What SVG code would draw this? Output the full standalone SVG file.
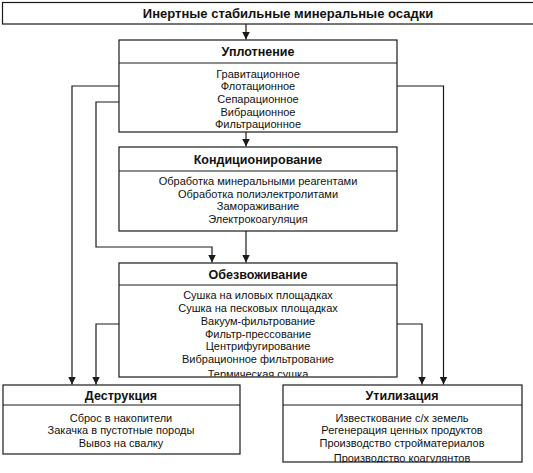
<svg xmlns="http://www.w3.org/2000/svg" width="533" height="473" viewBox="0 0 533 473">
<style>
.box{fill:#fff;stroke:#1a1a1a;stroke-width:1.2}
.div{stroke:#1a1a1a;stroke-width:1.1}
.h{font-family:"Liberation Sans",Arial,sans-serif;font-weight:bold;font-size:12.5px;fill:#111;text-anchor:middle}
.t{font-family:"Liberation Sans",Arial,sans-serif;font-size:11px;fill:#111;text-anchor:middle}
.c{fill:none;stroke:#1a1a1a;stroke-width:1.2}
</style>
<defs>
<marker id="ar" markerWidth="8" markerHeight="10" refX="8" refY="4" orient="auto" markerUnits="userSpaceOnUse" viewBox="0 0 8 8">
<path d="M0,0 L8,4 L0,8 z" fill="#1a1a1a"/>
</marker>
<clipPath id="clipObez"><rect x="119" y="263" width="278" height="113.5"/></clipPath>
<clipPath id="clipUtil"><rect x="283" y="385" width="239" height="77.5"/></clipPath>
</defs>
<g id="connectors">
<path class="c" d="M246,24 V39.5" marker-end="url(#ar)"/>
<path class="c" d="M246,132 V146.5" marker-end="url(#ar)"/>
<path class="c" d="M246,231 V262.5" marker-end="url(#ar)"/>
<path class="c" d="M119,86 H72 V384.5" marker-end="url(#ar)"/>
<path class="c" d="M119,102 H96 V247 H212 V262.5" marker-end="url(#ar)"/>
<path class="c" d="M397,86 H443.5 V384.5" marker-end="url(#ar)"/>
<path class="c" d="M119,324 H96 V384.5" marker-end="url(#ar)"/>
<path class="c" d="M397,324 H422 V384.5" marker-end="url(#ar)"/>
</g>
<g id="top">
<rect class="box" x="2.5" y="2.5" width="532" height="21.5"/>
<text class="h" x="288" y="18" style="font-size:13px">Инертные стабильные минеральные осадки</text>
</g>
<g id="uplotnenie">
<rect class="box" x="119" y="40" width="278" height="92"/>
<line class="div" x1="119" y1="63" x2="397" y2="63"/>
<text class="h" x="258" y="56">Уплотнение</text>
<text class="t" x="258" y="77.5">Гравитационное</text>
<text class="t" x="258" y="90">Флотационное</text>
<text class="t" x="258" y="103">Сепарационное</text>
<text class="t" x="258" y="115.5">Вибрационное</text>
<text class="t" x="258" y="128">Фильтрационное</text>
</g>
<g id="kondicionirovanie">
<rect class="box" x="119" y="147" width="278" height="84"/>
<line class="div" x1="119" y1="171" x2="397" y2="171"/>
<text class="h" x="258" y="164">Кондиционирование</text>
<text class="t" x="258" y="185">Обработка минеральными реагентами</text>
<text class="t" x="258" y="197.5">Обработка полиэлектролитами</text>
<text class="t" x="258" y="210">Замораживание</text>
<text class="t" x="258" y="222.5">Электрокоагуляция</text>
</g>
<g id="obezvozhivanie">
<rect class="box" x="119" y="263" width="278" height="114"/>
<line class="div" x1="119" y1="285" x2="397" y2="285"/>
<text class="h" x="258" y="279">Обезвоживание</text>
<g clip-path="url(#clipObez)">
<text class="t" x="258" y="299">Сушка на иловых площадках</text>
<text class="t" x="258" y="312">Сушка на песковых площадках</text>
<text class="t" x="258" y="325">Вакуум-фильтрование</text>
<text class="t" x="258" y="337.5">Фильтр-прессование</text>
<text class="t" x="258" y="350">Центрифугирование</text>
<text class="t" x="258" y="362.5">Вибрационное фильтрование</text>
<text class="t" x="258" y="378">Термическая сушка</text>
</g>
</g>
<g id="destrukciya">
<rect class="box" x="3" y="385" width="237" height="69"/>
<line class="div" x1="3" y1="405" x2="240" y2="405"/>
<text class="h" x="121" y="400">Деструкция</text>
<text class="t" x="121" y="422">Сброс в накопители</text>
<text class="t" x="121" y="434">Закачка в пустотные породы</text>
<text class="t" x="121" y="446.5">Вывоз на свалку</text>
</g>
<g id="utilizaciya">
<rect class="box" x="283" y="385" width="239" height="77"/>
<line class="div" x1="283" y1="405" x2="522" y2="405"/>
<text class="h" x="402" y="400">Утилизация</text>
<g clip-path="url(#clipUtil)">
<text class="t" x="402" y="422">Известкование с/х земель</text>
<text class="t" x="402" y="434">Регенерация ценных продуктов</text>
<text class="t" x="402" y="446.5">Производство стройматериалов</text>
<text class="t" x="402" y="461.5">Производство коагулянтов</text>
</g>
</g>
</svg>
